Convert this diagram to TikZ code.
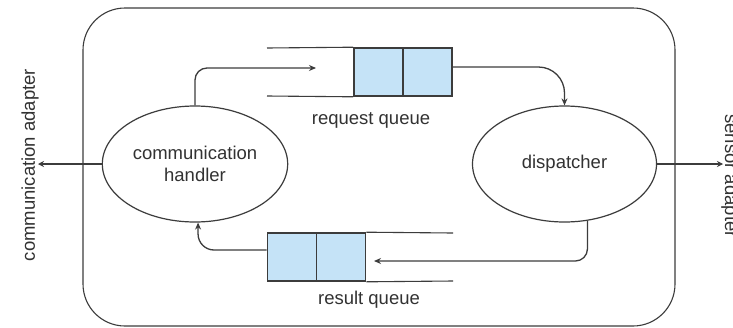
\documentclass[tikz,border=0pt]{standalone}
\usepackage{fontspec}
\setmainfont{Liberation Sans}
\usetikzlibrary{arrows.meta,shapes.geometric}
\definecolor{lc}{RGB}{60,60,60}
\definecolor{tc}{RGB}{50,50,50}
\definecolor{qfill}{RGB}{197,227,247}
\begin{document}
\begin{tikzpicture}[x=1pt,y=-1pt,
  lbl/.style={text=tc,font=\fontsize{18.5}{22}\selectfont,inner sep=0pt},
  proc/.style={ellipse,draw=lc,line width=1.2pt,minimum width=184pt,minimum height=116pt,align=center,text=tc,font=\fontsize{18.5}{22}\selectfont},
  cell/.style={draw=lc,fill=qfill,line width=1.6pt,minimum width=49pt,minimum height=48pt,inner sep=0pt},
  qline/.style={draw=lc,line width=1.1pt},
  flow/.style={draw=lc,line width=1.3pt,-{Stealth[length=7pt,width=6pt]}},
  adapt/.style={draw=lc,line width=2.6pt,-{Stealth[length=6pt,width=6pt]}},
  frame/.style={draw=lc,line width=1.1pt,rounded corners=42pt,minimum width=592pt,minimum height=318pt,inner sep=0pt}
]
\useasboundingbox (0,0) rectangle (733,327);
\clip (0,0) rectangle (733,327);
\fill[white] (0,0) rectangle (733,327);

% outer frame
\node[frame] (fr) at (379,167) {};

% processes
\node[proc] (comm) at (195,164) {communication\\handler};
\node[proc] (disp) at (564.5,164) {dispatcher};

% request queue
\node[cell] (rq1) at (378.5,72) {};
\node[cell] (rq2) at (427.5,72) {};
\coordinate (rqtl) at (267,48);
\coordinate (rqbl) at (267,96);
\draw[qline] (rqtl) -- (rq1.north west);
\draw[qline] (rqbl) -- (rq1.south west);
\node[lbl] (rql) at (371,120) {request queue};

% result queue
\node[cell] (rs1) at (292,257) {};
\node[cell] (rs2) at (341,257) {};
\coordinate (rstr) at (453,233);
\coordinate (rsbr) at (453,281);
\draw[qline] (rs2.north east) -- (rstr);
\draw[qline] (rs2.south east) -- (rsbr);
\node[lbl] (rsl) at (369,300) {result queue};

% flows
\coordinate (rqin) at (316,68);
\coordinate (rsin) at (374,261);
\draw[flow,rounded corners=12pt] (comm.north) |- (rqin);
\draw[flow,rounded corners=26pt] ([yshift=5pt]rq2.east) -| (disp.north);
\draw[flow,rounded corners=12pt] (disp.-68) |- (rsin);
\draw[flow,rounded corners=16pt] ([yshift=7pt]rs1.west) -| (comm.-87);

% adapters
\coordinate (ca) at (38,164);
\coordinate (sa) at (723,164);
\draw[adapt] (comm.west) -- (ca);
\draw[adapt] (disp.east) -- (sa);
\node[lbl,rotate=90] (cal) at (30,165) {communication adapter};
\node[lbl,rotate=-90] (sal) at (730,176) {sensor adapter};
\end{tikzpicture}
\end{document}
